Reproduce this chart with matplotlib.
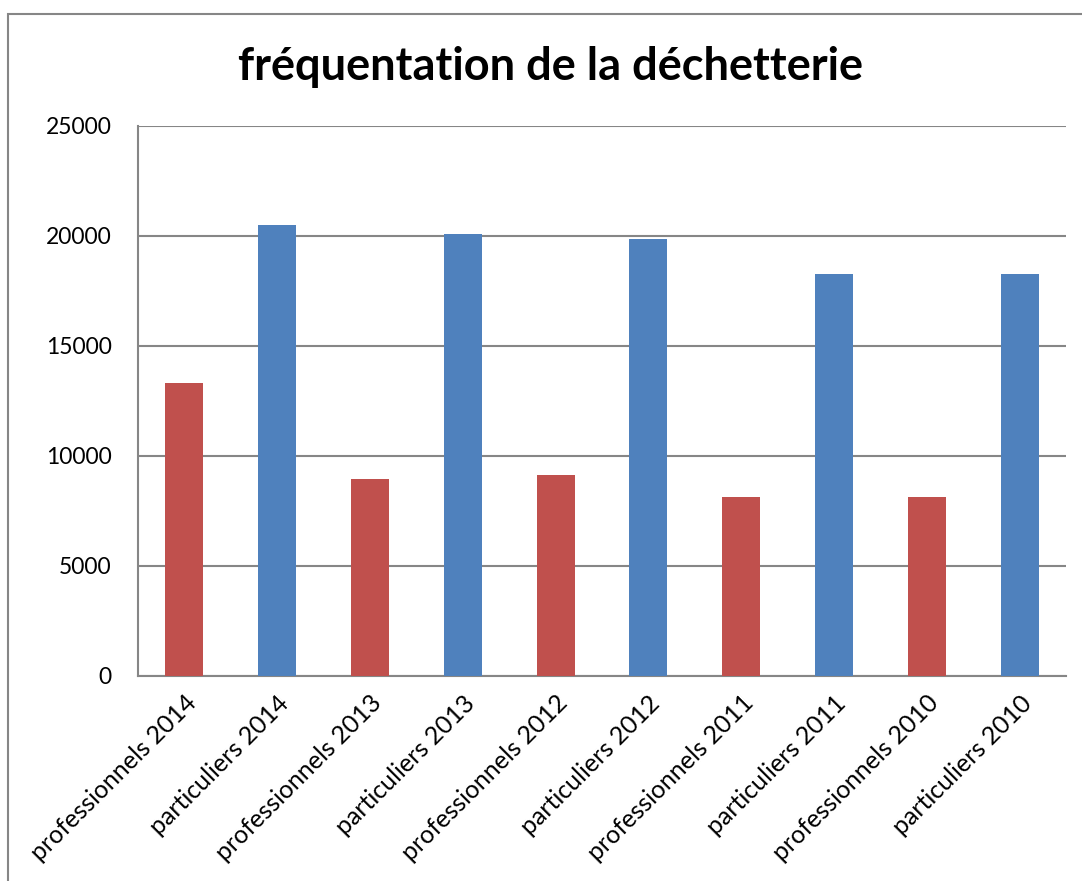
import matplotlib
matplotlib.use("Agg")
import matplotlib.pyplot as plt
from matplotlib.patches import Rectangle

categories = ["professionnels 2014", "particuliers 2014", "professionnels 2013", "particuliers 2013",
              "professionnels 2012", "particuliers 2012", "professionnels 2011", "particuliers 2011",
              "professionnels 2010", "particuliers 2010"]
values = [13320, 20500, 8950, 20100, 9150, 19850, 8150, 18270, 8150, 18270]
colors = ["#C0504D", "#4F81BD"] * 5
yticks = [0, 5000, 10000, 15000, 20000, 25000]

plt.rcParams['font.family'] = ['Lato', 'DejaVu Sans']

fig = plt.figure(figsize=(10.82, 8.81), dpi=100)
fig.patches.append(Rectangle((8/1082, -0.1), 1.2, 1 - 14/881 + 0.1, transform=fig.transFigure,
                             fill=False, edgecolor="#868686", linewidth=1.5))

ax = fig.add_axes([138/1082, 1 - 676/881, (1066 - 138)/1082, (676 - 126)/881])
x = list(range(len(categories)))
ax.bar(x, values, width=0.41, color=colors, zorder=3)
ax.set_xlim(-0.5, len(categories) - 0.5)
ax.set_ylim(0, 25000)
ax.set_yticks(yticks)
ax.set_yticklabels([str(v) for v in yticks], fontsize=16.5)
ax.yaxis.grid(True, color="#868686", linewidth=1.5, zorder=0)
ax.set_axisbelow(True)
for s in ["top", "right"]:
    ax.spines[s].set_visible(False)
for s in ["left", "bottom"]:
    ax.spines[s].set_color("#868686")
    ax.spines[s].set_linewidth(1.5)
ax.tick_params(axis='y', length=0, pad=19)
ax.tick_params(axis='x', length=0, pad=11)
ax.set_xticks(x)
ax.set_xticklabels(categories, fontsize=18, rotation=45, ha='right', va='top', rotation_mode='anchor')

fig.text(551/1082, 1 - 67/881, "fréquentation de la déchetterie", ha='center', va='center',
         fontsize=32.5, fontweight='bold')

fig.savefig("out.png", dpi=100)
